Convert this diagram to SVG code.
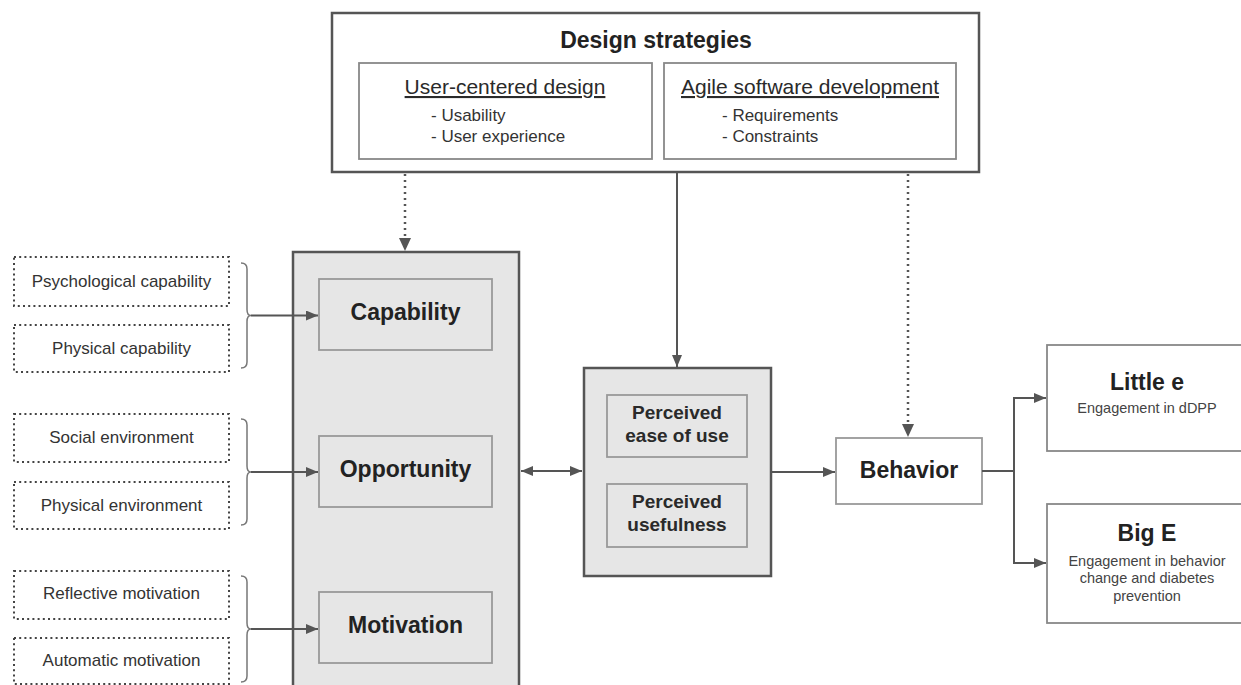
<svg xmlns="http://www.w3.org/2000/svg" width="1241" height="685" viewBox="0 0 1241 685">
<style>
text{font-family:"Liberation Sans",Arial,sans-serif;fill:#2a2a2a}
.b{font-weight:bold}
.big{font-size:23px;font-weight:bold;text-anchor:middle;fill:#222}
.sub{font-size:17px;fill:#333}
.dot{fill:#fff;stroke:#444;stroke-width:2;stroke-dasharray:2 3.2}
.lbl{font-size:17px;text-anchor:middle;fill:#333}
.outer{stroke:#555;stroke-width:2.5}
.inner{fill:#e6e6e6;stroke:#999;stroke-width:1.8}
.wbox{fill:#fff;stroke:#888;stroke-width:1.8}
.con{fill:none;stroke:#555;stroke-width:2}
.dotline{fill:none;stroke:#555;stroke-width:2.5;stroke-dasharray:2 4}
.brace{fill:none;stroke:#777;stroke-width:1.5}
.small{font-size:14.5px;text-anchor:middle;fill:#444}
</style>
<defs>
<marker id="ah" markerUnits="userSpaceOnUse" markerWidth="12" markerHeight="10" refX="12" refY="5" orient="auto-start-reverse">
<path d="M0,0 L12,5 L0,10 z" fill="#555"/>
</marker>
</defs>

<g id="design-strategies">
<rect x="332" y="13" width="647" height="159" fill="#fff" class="outer"/>
<text x="656" y="48" class="big">Design strategies</text>
</g>
<g id="user-centered-design">
<rect x="359" y="63" width="293" height="96" class="wbox"/>
<text x="505" y="94" style="font-size:21px;text-decoration:underline" text-anchor="middle" fill="#333">User-centered design</text>
<text x="431" y="121" class="sub">- Usability</text>
<text x="431" y="142" class="sub">- User experience</text>
</g>
<g id="agile">
<rect x="664" y="63" width="292" height="96" class="wbox"/>
<text x="810" y="94" style="font-size:21px;text-decoration:underline" text-anchor="middle" fill="#333">Agile software development</text>
<text x="722" y="121" class="sub">- Requirements</text>
<text x="722" y="142" class="sub">- Constraints</text>
</g>

<g id="com-b">
<rect x="293" y="252" width="226" height="445" fill="#e6e6e6" class="outer"/>
</g>
<g id="capability">
<rect x="319" y="279" width="173" height="71" class="inner"/>
<text x="405.5" y="320" class="big">Capability</text>
</g>
<g id="opportunity">
<rect x="319" y="436" width="173" height="71" class="inner"/>
<text x="405.5" y="477" class="big">Opportunity</text>
</g>
<g id="motivation">
<rect x="319" y="592" width="173" height="71" class="inner"/>
<text x="405.5" y="633" class="big">Motivation</text>
</g>

<g id="psychological-capability">
<rect x="14" y="257" width="215" height="49" class="dot"/>
<text x="121.5" y="287" class="lbl">Psychological capability</text>
</g>
<g id="physical-capability">
<rect x="14" y="325" width="215" height="47" class="dot"/>
<text x="121.5" y="354" class="lbl">Physical capability</text>
</g>
<g id="social-environment">
<rect x="14" y="414" width="215" height="48" class="dot"/>
<text x="121.5" y="443" class="lbl">Social environment</text>
</g>
<g id="physical-environment">
<rect x="14" y="482" width="215" height="47" class="dot"/>
<text x="121.5" y="511" class="lbl">Physical environment</text>
</g>
<g id="reflective-motivation">
<rect x="14" y="571" width="215" height="48" class="dot"/>
<text x="121.5" y="599" class="lbl">Reflective motivation</text>
</g>
<g id="automatic-motivation">
<rect x="14" y="638" width="215" height="46" class="dot"/>
<text x="121.5" y="666" class="lbl">Automatic motivation</text>
</g>

<g id="tam">
<rect x="584" y="368" width="187" height="208" fill="#e6e6e6" class="outer"/>
</g>
<g id="ease-of-use">
<rect x="607" y="395" width="140" height="62" class="inner"/>
<text x="677" y="419" class="b" style="font-size:19px" text-anchor="middle" fill="#222">Perceived</text>
<text x="677" y="442" class="b" style="font-size:19px" text-anchor="middle" fill="#222">ease of use</text>
</g>
<g id="usefulness">
<rect x="607" y="484" width="140" height="63" class="inner"/>
<text x="677" y="508" class="b" style="font-size:19px" text-anchor="middle" fill="#222">Perceived</text>
<text x="677" y="531" class="b" style="font-size:19px" text-anchor="middle" fill="#222">usefulness</text>
</g>

<g id="behavior">
<rect x="836" y="438" width="146" height="66" fill="#fff" stroke="#999" stroke-width="1.8"/>
<text x="909" y="478" class="big">Behavior</text>
</g>
<g id="little-e">
<rect x="1047" y="345" width="205" height="106" class="wbox"/>
<text x="1147" y="390" class="big">Little e</text>
<text x="1147" y="413" class="small">Engagement in dDPP</text>
</g>
<g id="big-e">
<rect x="1047" y="504" width="205" height="119" class="wbox"/>
<text x="1147" y="541" class="big">Big E</text>
<text x="1147" y="566" class="small">Engagement in behavior</text>
<text x="1147" y="583" class="small">change and diabetes</text>
<text x="1147" y="601" class="small">prevention</text>
</g>

<g id="connectors">
<path class="dotline" d="M405,174 V238"/>
<path d="M399,238 L411,238 L405,251 z" fill="#555"/>
<path class="con" d="M677,172 V367" marker-end="url(#ah)"/>
<path class="dotline" d="M908,174 V424"/>
<path d="M902,424 L914,424 L908,437 z" fill="#555"/>
<path class="brace" d="M241,263 Q247,263 247,269 V309.5 Q247,315.5 251,315.5 Q247,315.5 247,321.5 V362 Q247,368 241,368"/>
<path class="brace" d="M241,419 Q247,419 247,425 V466 Q247,472 251,472 Q247,472 247,478 V519 Q247,525 241,525"/>
<path class="brace" d="M241,576 Q247,576 247,582 V623 Q247,629 251,629 Q247,629 247,635 V676 Q247,682 241,682"/>
<path class="con" d="M251,315.5 H318" marker-end="url(#ah)"/>
<path class="con" d="M251,472 H318" marker-end="url(#ah)"/>
<path class="con" d="M251,629 H318" marker-end="url(#ah)"/>
<path class="con" d="M521,471 H582" marker-start="url(#ah)" marker-end="url(#ah)"/>
<path class="con" d="M771,472 H835" marker-end="url(#ah)"/>
<path class="con" d="M982,471 H1014 M1014,398 V563"/>
<path class="con" d="M1013,398 H1046" marker-end="url(#ah)"/>
<path class="con" d="M1013,563 H1046" marker-end="url(#ah)"/>
</g>
</svg>
